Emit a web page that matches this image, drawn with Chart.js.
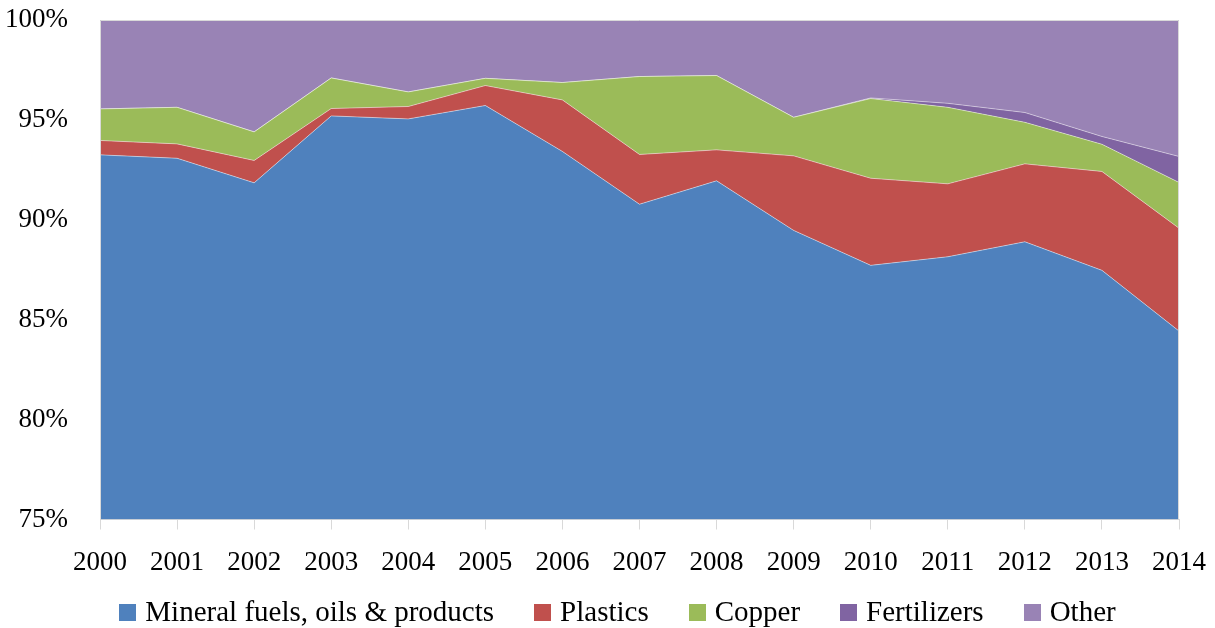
<!DOCTYPE html>
<html>
<head>
<meta charset="utf-8">
<script src="https://cdn.jsdelivr.net/npm/chart.js@4/dist/chart.umd.min.js"></script>
<style>
  html, body { margin: 0; padding: 0; background: #ffffff; }
  #wrap { width: 1215px; height: 628px; position: relative; }
</style>
</head>
<body>
<div id="wrap"><canvas id="chart"></canvas></div>
<script>
// Years on the horizontal axis
const years = ['2000','2001','2002','2003','2004','2005','2006','2007','2008','2009','2010','2011','2012','2013','2014'];

// Share of exports by product group (%), stacked to 100
const mineralFuels = [93.25, 93.08, 91.85, 95.20, 95.05, 95.72, 93.42, 90.78, 91.95, 89.47, 87.72, 88.15, 88.90, 87.47, 84.43];
const plastics     = [ 0.72,  0.72,  1.12,  0.37,  0.62,  1.00,  2.58,  2.49,  1.55,  3.73,  4.36,  3.65,  3.90,  4.95,  5.15];
const copper       = [ 1.58,  1.83,  1.43,  1.53,  0.73,  0.36,  0.87,  3.90,  3.72,  1.93,  3.99,  3.83,  2.08,  1.36,  2.29];
const fertilizers  = [ 0.00,  0.00,  0.00,  0.00,  0.00,  0.00,  0.00,  0.00,  0.00,  0.00,  0.03,  0.20,  0.49,  0.39,  1.30];
const other        = [ 4.45,  4.37,  5.60,  2.90,  3.60,  2.92,  3.13,  2.83,  2.78,  4.87,  3.90,  4.17,  4.63,  5.83,  6.83];

// Value axis ticks
const yTicks = [75, 80, 85, 90, 95, 100];

const FONT = '"Liberation Serif", "Times New Roman", serif';
const AXIS_GREY = '#d9d9d9';

// Light frame along the top and sides of the plot area
const plotFrame = {
  id: 'plotFrame',
  afterDatasetsDraw(chart) {
    const { ctx, chartArea: a } = chart;
    ctx.save();
    ctx.strokeStyle = AXIS_GREY;
    ctx.lineWidth = 1;
    ctx.beginPath();
    ctx.moveTo(a.left + 0.5, a.bottom);
    ctx.lineTo(a.left + 0.5, a.top + 0.5);
    ctx.lineTo(a.right - 0.5, a.top + 0.5);
    ctx.lineTo(a.right - 0.5, a.bottom);
    ctx.stroke();
    ctx.restore();
  }
};

// Single-row legend under the axis: square swatch, label, wide gap between entries
const bottomLegend = {
  id: 'bottomLegend',
  afterDraw(chart, args, opts) {
    const { ctx } = chart;
    const items = chart.data.datasets.map(ds => ({ text: ds.label, color: ds.backgroundColor }));
    ctx.save();
    ctx.font = `${opts.fontSize}px ${FONT}`;
    ctx.textBaseline = 'middle';
    ctx.textAlign = 'left';
    const widths = items.map(it => ctx.measureText(it.text).width);
    const total = widths.reduce((s, w) => s + opts.box + opts.boxGap + w, 0) + opts.itemGap * (items.length - 1);
    let x = opts.centerX - total / 2;
    const cy = opts.centerY;
    items.forEach((it, i) => {
      ctx.fillStyle = it.color;
      ctx.fillRect(Math.round(x), Math.round(cy - opts.box / 2), opts.box, opts.box);
      x += opts.box + opts.boxGap;
      ctx.fillStyle = '#000000';
      ctx.fillText(it.text, x, cy + 1);
      x += widths[i] + opts.itemGap;
    });
    ctx.restore();
  }
};

function area(label, data, color, fill) {
  return {
    label, data,
    backgroundColor: color,
    borderColor: 'rgba(255,255,255,0.45)',
    borderWidth: 1,
    pointRadius: 0,
    pointHoverRadius: 0,
    tension: 0,
    fill
  };
}

new Chart(document.getElementById('chart'), {
  type: 'line',
  data: {
    labels: years,
    datasets: [
      area('Mineral fuels, oils & products', mineralFuels, '#4F81BD', 'start'),
      area('Plastics', plastics, '#C0504D', '-1'),
      area('Copper', copper, '#9BBB59', '-1'),
      area('Fertilizers', fertilizers, '#8064A2', '-1'),
      area('Other', other, '#9983B5', '-1')
    ]
  },
  options: {
    responsive: true,
    maintainAspectRatio: false,
    animation: false,
    layout: { padding: { top: 20, right: 36, left: 0, bottom: 32.1 } },
    plugins: {
      tooltip: { enabled: false },
      legend: { display: false },
      bottomLegend: { fontSize: 29, box: 17, boxGap: 9, itemGap: 40, centerX: 617.5, centerY: 612 }
    },
    scales: {
      x: {
        offset: false,
        afterFit(scale) {
          scale.paddingLeft = 0;
          scale.paddingRight = 0;
        },
        grid: {
          display: true,
          drawOnChartArea: false,
          drawTicks: true,
          tickLength: 10,
          color: AXIS_GREY
        },
        border: { display: true, color: AXIS_GREY },
        ticks: {
          color: '#000000',
          font: { family: FONT, size: 27 },
          padding: 17,
          maxRotation: 0,
          autoSkip: false
        }
      },
      y: {
        stacked: true,
        min: 75,
        max: 100,
        afterFit(scale) {
          scale.width = 100;
          scale.paddingTop = 0;
          scale.paddingBottom = 0;
        },
        afterBuildTicks(scale) { scale.ticks = yTicks.map(v => ({ value: v })); },
        grid: { display: false, drawTicks: false },
        border: { display: false },
        ticks: {
          color: '#000000',
          font: { family: FONT, size: 27 },
          padding: 32,
          callback: v => v + '%'
        }
      }
    }
  },
  plugins: [plotFrame, bottomLegend]
});
</script>
</body>
</html>
